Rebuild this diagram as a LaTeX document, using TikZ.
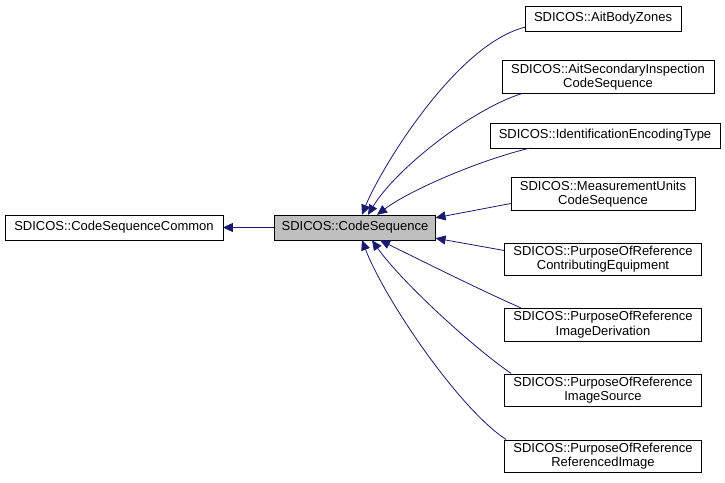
\documentclass[tikz,border=0pt]{standalone}
\usepackage{fontspec}
\setmainfont{Liberation Sans}
\usepackage{tikz}
\usetikzlibrary{arrows.meta,positioning,calc}
\definecolor{edgeblue}{RGB}{25,25,112}
\definecolor{boxgray}{RGB}{191,191,191}

\begin{document}
\begin{tikzpicture}[
  x=1pt, y=-1pt,
  classbox/.style={draw=black, fill=white, minimum height=25pt, inner xsep=9pt, inner ysep=3pt, align=center, font=\fontsize{13}{14.5}\selectfont},
  current/.style={classbox, fill=boxgray, inner xsep=7pt},
  inherit/.style={-{Triangle[length=10pt,width=9pt]}, color=edgeblue, line width=0.8pt}
]
  \useasboundingbox (0,0) rectangle (725,482);

  \node[classbox] (common) at (114,227.5) {SDICOS::CodeSequenceCommon};
  \node[current] (codeseq) at (355,227.5) {SDICOS::CodeSequence};

  \node[classbox] (bodyzones) at (603,18.5) {SDICOS::AitBodyZones};
  \node[classbox] (secinsp) at (608,77) {SDICOS::AitSecondaryInspection\\CodeSequence};
  \node[classbox] (idenc) at (605,135.5) {SDICOS::IdentificationEncodingType};
  \node[classbox] (measunits) at (603,194) {SDICOS::MeasurementUnits\\CodeSequence};
  \node[classbox] (contrib) at (603,259) {SDICOS::PurposeOfReference\\ContributingEquipment};
  \node[classbox] (imgderiv) at (603,324.5) {SDICOS::PurposeOfReference\\ImageDerivation};
  \node[classbox] (imgsrc) at (603,390) {SDICOS::PurposeOfReference\\ImageSource};
  \node[classbox] (refimg) at (603,456) {SDICOS::PurposeOfReference\\ReferencedImage};

  \draw[inherit] (codeseq.west) -- (common.east);

  \draw[inherit] ($(bodyzones.south west)+(0,-4)$) .. controls (455,45) and (380,170) .. ($(codeseq.north)+(7,0)$);
  \draw[inherit] ($(secinsp.south west)+(20,0)$) .. controls (470,110) and (395,170) .. ($(codeseq.north)+(13,0)$);
  \draw[inherit] ($(idenc.south west)+(40,0)$) .. controls (480,160) and (410,190) .. ($(codeseq.north)+(22,0)$);
  \draw[inherit] ($(measunits.south west)+(0,-7)$) -- ($(codeseq.north east)+(0,3)$);
  \draw[inherit] ($(contrib.north west)+(0,8)$) -- ($(codeseq.south east)+(0,-2)$);
  \draw[inherit] ($(imgderiv.north west)+(17,0)$) .. controls (480,290) and (410,255) .. ($(codeseq.south)+(25,0)$);
  \draw[inherit] ($(imgsrc.north west)+(7,0)$) .. controls (470,345) and (400,280) .. ($(codeseq.south)+(17,0)$);
  \draw[inherit] ($(refimg.north west)+(2,0)$) .. controls (460,410) and (385,300) .. ($(codeseq.south)+(7,0)$);
\end{tikzpicture}
\end{document}
